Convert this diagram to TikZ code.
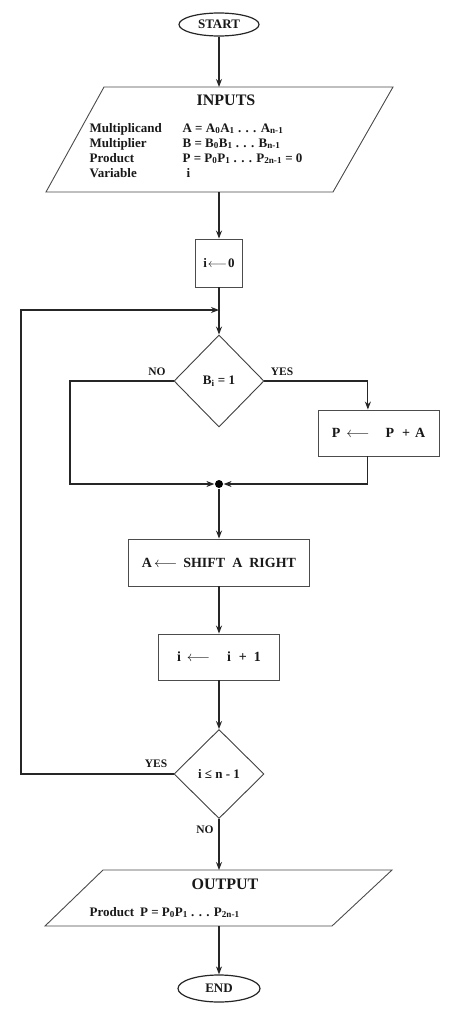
\documentclass[tikz,border=0pt]{standalone}
\usepackage{fontspec}
\setmainfont{Liberation Serif}
\usetikzlibrary{shapes.geometric,arrows.meta,calc}
\begin{document}
\begin{tikzpicture}[x=1pt,y=-1pt,
  line width=1.2pt,
  every node/.style={font=\bfseries\fontsize{13}{15}\selectfont, inner sep=0pt, text=black!90},
  arr/.style={draw=black!85,-{Stealth[length=8pt,width=6pt]}},
  term/.style={draw=black!85, ellipse, minimum width=80pt, minimum height=23pt},
  iobox/.style={draw=black!70, line width=0.9pt, line join=miter},
  proc/.style={draw=black!70, line width=0.9pt, rectangle},
  dec/.style={draw=black!75, line width=0.9pt, diamond, minimum width=90pt, minimum height=92pt},
  lbl/.style={font=\bfseries\fontsize{11.5}{13}\selectfont},
  ttl/.style={font=\bfseries\fontsize{16}{18}\selectfont},
  big/.style={font=\bfseries\fontsize{14}{16}\selectfont}
]
\useasboundingbox (0,0) rectangle (474,1009);
\fill[white] (0,0) rectangle (474,1009);

% nodes
\node[term] (startn) at (219,24.5) {START};
\draw[iobox] (104,87) -- (393,87) -- (333,192) -- (46,192) -- cycle;
\coordinate (inputsN) at (219,87);
\coordinate (inputsS) at (219,192);
\node[ttl] (inputsttl) at (226,100) {INPUTS};
\node[anchor=base west] (inputsbody) at (89,132) {\begin{tabular}[t]{@{}p{93pt}@{}l@{}}
Multiplicand & A = A\textsubscript{0}A\textsubscript{1} . . . A\textsubscript{n-1}\\
Multiplier & B = B\textsubscript{0}B\textsubscript{1} . . . B\textsubscript{n-1}\\
Product & P = P\textsubscript{0}P\textsubscript{1} . . . P\textsubscript{2n-1} = 0\\
Variable & \hspace{4pt}i
\end{tabular}};
\node[proc, minimum width=47pt, minimum height=48pt] (init) at (219,263) {i\hspace{1pt}$\longleftarrow$\hspace{1pt}0};
\coordinate (loopjoin) at (219,310);
\node[dec] (dec1) at (219,381) {B\textsubscript{i} = 1};
\node[proc, minimum width=121pt, minimum height=46pt, big] (add) at (378.5,433) {P\hspace{6pt}$\longleftarrow$\hspace{16pt}P\hspace{8pt}+\hspace{5pt}A};
\node[circle, fill=black, minimum size=8pt] (junc) at (219,484) {};
\node[proc, minimum width=181pt, minimum height=47pt, big] (shift) at (219,562.5) {A\hspace{2pt}$\longleftarrow$\hspace{6pt}SHIFT\hspace{7pt}A\hspace{7pt}RIGHT};
\node[proc, minimum width=121pt, minimum height=46pt, big] (incr) at (219,657) {i\hspace{6pt}$\longleftarrow$\hspace{17pt}i\hspace{8pt}+\hspace{7pt}1};
\node[dec, minimum height=89pt] (dec2) at (219,774) {i ≤ n - 1};
\draw[iobox] (103,870) -- (392,870) -- (332,926) -- (45,926) -- cycle;
\coordinate (outputN) at (219,870);
\coordinate (outputS) at (219,926);
\node[ttl] (outputttl) at (225,884) {OUTPUT};
\node[anchor=base west] (outputbody) at (89,916) {Product\hspace{6pt}P = P\textsubscript{0}P\textsubscript{1} . . . P\textsubscript{2n-1}};
\node[term, minimum width=82pt, minimum height=27pt] (stop) at (219,988.5) {END};

% labels
\node[lbl] (no1) at (157,372) {NO};
\node[lbl] (yes1) at (282,372) {YES};
\node[lbl] (yes2) at (156,764) {YES};
\node[lbl] (no2) at (205,830) {NO};

% connectors
\coordinate (addin) at ($(add.north west)!0.413!(add.north east)$);
\coordinate (addout) at ($(add.south west)!0.413!(add.south east)$);
\coordinate (noleft) at (70,381);
\coordinate (loopleft) at (21,774);
\draw[arr] (startn.south) -- (inputsN);
\draw[arr] (inputsS) -- (init.north);
\draw[arr] (init.south) -- (dec1.north);
\draw[arr] (dec2.west) -- (loopleft) |- (loopjoin);
\draw[arr] (dec1.west) -- (noleft) |- (junc.west);
\draw[arr] (dec1.east) -| (addin);
\draw[arr] (addout) |- (junc.east);
\draw[arr] (junc.south) -- (shift.north);
\draw[arr] (shift.south) -- (incr.north);
\draw[arr] (incr.south) -- (dec2.north);
\draw[arr] (dec2.south) -- (outputN);
\draw[arr] (outputS) -- (stop.north);
\end{tikzpicture}
\end{document}
